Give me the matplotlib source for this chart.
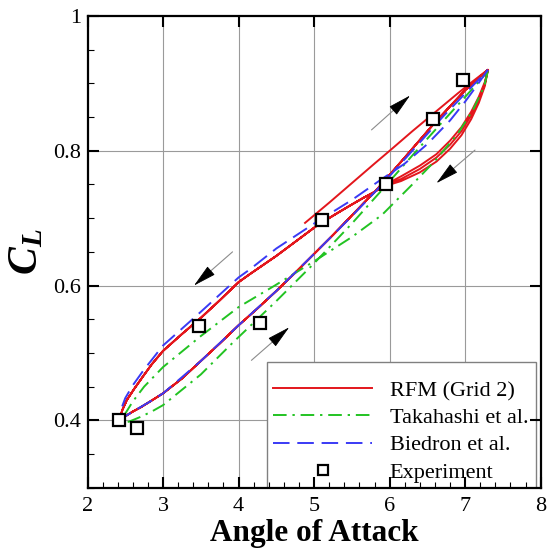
import numpy as np
import matplotlib
matplotlib.use("Agg")
import matplotlib.pyplot as plt
from matplotlib.patches import Rectangle

plt.rcParams["font.family"] = ["Liberation Serif", "DejaVu Serif"]
plt.rcParams["mathtext.fontset"] = "custom"
plt.rcParams["mathtext.rm"] = "Liberation Serif"
plt.rcParams["mathtext.it"] = "Liberation Serif:italic"
plt.rcParams["mathtext.bf"] = "Liberation Serif:bold"
plt.rcParams["mathtext.bfit"] = "Liberation Serif:italic:bold"

# ---------------- RFM (Grid 2) ----------------
# start-up pass from the mean angle up to the maximum incidence
rfm_start_aoa = [4.88, 5.20, 5.50, 5.80, 6.00, 6.30, 6.60, 6.90, 7.10, 7.25, 7.30]
rfm_start_cl = [0.693, 0.723, 0.752, 0.781, 0.800, 0.829, 0.857, 0.885, 0.903, 0.916, 0.920]

# downstroke near the maximum incidence, successive cycles
rfm_down_hi_aoa = [7.30, 7.26, 7.18, 7.08, 6.95, 6.80, 6.62, 6.40, 6.15, 5.95]
rfm_down_hi_cl_1 = [0.920, 0.896, 0.871, 0.847, 0.823, 0.803, 0.784, 0.768, 0.755, 0.748]
rfm_down_hi_cl_2 = [0.920, 0.899, 0.876, 0.853, 0.829, 0.809, 0.790, 0.773, 0.758, 0.749]
rfm_down_hi_cl_3 = [0.920, 0.902, 0.880, 0.858, 0.835, 0.815, 0.795, 0.778, 0.762, 0.750]

# downstroke towards the minimum incidence
rfm_down_lo_aoa = [5.95, 5.80, 5.65, 5.48, 5.30, 5.05, 4.80, 4.50, 4.15, 4.00, 3.75,
                   3.50, 3.25, 3.00, 2.85, 2.74, 2.62, 2.52, 2.46, 2.43]
rfm_down_lo_cl = [0.750, 0.739, 0.730, 0.719, 0.707, 0.690, 0.669, 0.644, 0.617, 0.605, 0.578,
                  0.552, 0.528, 0.503, 0.483, 0.466, 0.447, 0.430, 0.415, 0.403]

# upstroke
rfm_up_aoa = [2.43, 2.50, 2.60, 2.70, 2.83, 3.00, 3.25, 3.50, 3.75, 4.00, 4.25, 4.50,
              4.75, 5.00, 5.25, 5.50, 5.85, 6.20, 6.60, 7.00, 7.20, 7.30]
rfm_up_cl = [0.403, 0.406, 0.413, 0.419, 0.428, 0.440, 0.462, 0.488, 0.514, 0.541, 0.566, 0.592,
             0.619, 0.647, 0.675, 0.704, 0.745, 0.790, 0.842, 0.890, 0.910, 0.920]

# ---------------- Takahashi et al. ----------------
tak_down_aoa = [7.30, 7.25, 7.10, 6.90, 6.60, 6.30, 5.90, 5.50, 5.00, 4.48, 4.00, 3.50,
                3.00, 2.75, 2.60, 2.50, 2.45]
tak_down_cl = [0.918, 0.895, 0.860, 0.825, 0.785, 0.750, 0.705, 0.672, 0.636, 0.600, 0.568, 0.525,
               0.479, 0.450, 0.428, 0.410, 0.396]
tak_up_aoa = [2.45, 2.55, 2.70, 2.85, 3.00, 3.50, 3.93, 4.50, 5.00, 5.50, 5.90, 6.30,
              6.70, 7.00, 7.20, 7.30]
tak_up_cl = [0.396, 0.398, 0.405, 0.413, 0.4225, 0.468, 0.516, 0.577, 0.633, 0.692, 0.742, 0.793,
             0.843, 0.880, 0.905, 0.918]

# ---------------- Biedron et al. ----------------
bie_down_aoa = [7.30, 7.15, 7.00, 6.80, 6.50, 6.20, 5.87, 5.50, 5.00, 4.50, 4.15, 4.00,
                3.50, 3.00, 2.74, 2.60, 2.50, 2.45, 2.43]
bie_down_cl = [0.920, 0.896, 0.873, 0.845, 0.810, 0.781, 0.756, 0.727, 0.692, 0.655, 0.624, 0.612,
               0.561, 0.511, 0.474, 0.452, 0.433, 0.418, 0.405]
bie_up_aoa = [2.43, 2.50, 2.60, 2.83, 3.00, 3.50, 4.00, 4.50, 5.00, 5.50, 5.90, 6.30,
              6.70, 7.00, 7.20, 7.30]
bie_up_cl = [0.403, 0.406, 0.413, 0.428, 0.440, 0.488, 0.541, 0.592, 0.647, 0.703, 0.750, 0.800,
             0.850, 0.885, 0.908, 0.920]

# ---------------- Experiment ----------------
exp_aoa = [2.42, 2.66, 3.48, 4.28, 5.11, 5.95, 6.575, 6.97]
exp_cl = [0.400, 0.388, 0.540, 0.544, 0.698, 0.750, 0.847, 0.905]

# direction-of-motion arrows: (tail, tip)
arrow_tails = [(5.76, 0.831), (7.13, 0.801), (3.92, 0.650), (4.17, 0.489)]
arrow_tips = [(6.27, 0.882), (6.62, 0.752), (3.41, 0.600), (4.67, 0.538)]

x_ticks = [2, 3, 4, 5, 6, 7, 8]
y_ticks = [0.4, 0.6, 0.8, 1.0]

RED = "#e3161c"
GREEN = "#22c322"
BLUE = "#3a3af5"

fig = plt.figure(figsize=(5.49, 5.52), dpi=100)
ax = fig.add_axes([0.1594, 0.1165, 0.8255, 0.8545])

# RFM: start-up pass followed by three cycles
rfm_aoa = np.concatenate([rfm_start_aoa,
                          rfm_down_hi_aoa, rfm_down_lo_aoa, rfm_up_aoa,
                          rfm_down_hi_aoa, rfm_down_lo_aoa, rfm_up_aoa,
                          rfm_down_hi_aoa, rfm_down_lo_aoa, rfm_up_aoa])
rfm_cl = np.concatenate([rfm_start_cl,
                         rfm_down_hi_cl_1, rfm_down_lo_cl, rfm_up_cl,
                         rfm_down_hi_cl_2, rfm_down_lo_cl, rfm_up_cl,
                         rfm_down_hi_cl_3, rfm_down_lo_cl, rfm_up_cl])
ax.plot(rfm_aoa, rfm_cl, color=RED, lw=1.4, solid_joinstyle="round", zorder=3,
        label="RFM (Grid 2)")

tak_aoa = np.concatenate([tak_down_aoa, tak_up_aoa])
tak_cl = np.concatenate([tak_down_cl, tak_up_cl])
ax.plot(tak_aoa, tak_cl, color=GREEN, lw=1.4, dashes=(7, 3, 1.2, 3), zorder=4,
        label="Takahashi et al.")

bie_aoa = np.concatenate([bie_down_aoa, bie_up_aoa])
bie_cl = np.concatenate([bie_down_cl, bie_up_cl])
ax.plot(bie_aoa, bie_cl, color=BLUE, lw=1.4, dashes=(8.5, 4), zorder=4,
        label="Biedron et al.")

ax.plot(exp_aoa, exp_cl, ls="none", marker="s", ms=8.5, mfc="white", mec="black",
        mew=1.6, zorder=6, label="Experiment")

for (tx, ty), (hx, hy) in zip(arrow_tails, arrow_tips):
    bx = hx - 0.42 * (hx - tx)
    by = hy - 0.42 * (hy - ty)
    ax.annotate("", xy=(bx, by), xytext=(tx, ty),
                arrowprops=dict(arrowstyle="-", color="#8c8c8c", lw=0.8,
                                shrinkA=0, shrinkB=0), zorder=5)
    ax.annotate("", xy=(hx, hy), xytext=(bx, by),
                arrowprops=dict(arrowstyle="-|>,head_length=1.05,head_width=0.25",
                                mutation_scale=14, fc="black", ec="black", lw=0.6,
                                shrinkA=0, shrinkB=0), zorder=5)

ax.set_xlim(2, 8)
ax.set_ylim(0.3, 1.0)
ax.set_xticks(x_ticks)
ax.set_yticks(y_ticks)
ax.set_yticklabels([f"{v:g}" for v in y_ticks])
ax.set_xticks(np.arange(2, 8.001, 0.2), minor=True)
ax.set_yticks(np.arange(0.3, 1.0001, 0.05), minor=True)

for v in x_ticks[1:-1]:
    ax.axvline(v, color="#9a9a9a", lw=0.8, zorder=1)
for v in y_ticks[:-1]:
    ax.axhline(v, color="#9a9a9a", lw=0.8, zorder=1)

ax.tick_params(which="both", direction="in", top=True, right=True, labelsize=16)
ax.tick_params(which="major", length=8, width=1.5)
ax.tick_params(which="minor", length=4.5, width=0.8, top=False, right=False)
ax.tick_params(axis="x", pad=7)
ax.tick_params(axis="y", pad=4.5)
for s in ax.spines.values():
    s.set_linewidth(1.6)
    s.set_zorder(8)
ax.xaxis.set_zorder(8)
ax.yaxis.set_zorder(8)

ax.set_xlabel("Angle of Attack", fontsize=22.5, fontweight="bold")
ax.xaxis.set_label_coords(0.5, -0.066)
ax.text(-0.133, 0.5, r"$\mathbfit{C}_{\mathbfit{L}}$", transform=ax.transAxes,
        rotation=90, ha="center", va="center", fontsize=30)

# legend box (white panel with grey border) and its entries
ax.add_patch(Rectangle((0.3954, 0.0), 0.5936, 0.2665, transform=ax.transAxes,
                       facecolor="white", edgecolor="#808080", lw=1.0, zorder=6.5))
leg = ax.legend(loc="lower right", bbox_to_anchor=(0.995, -0.0106), fontsize=16,
                frameon=False, handlelength=4.45, handletextpad=0.8, labelspacing=0.30,
                borderpad=0.45, borderaxespad=0.0, numpoints=1, markerscale=0.9)
leg.set_zorder(7)

fig.savefig("out.png", dpi=100)
